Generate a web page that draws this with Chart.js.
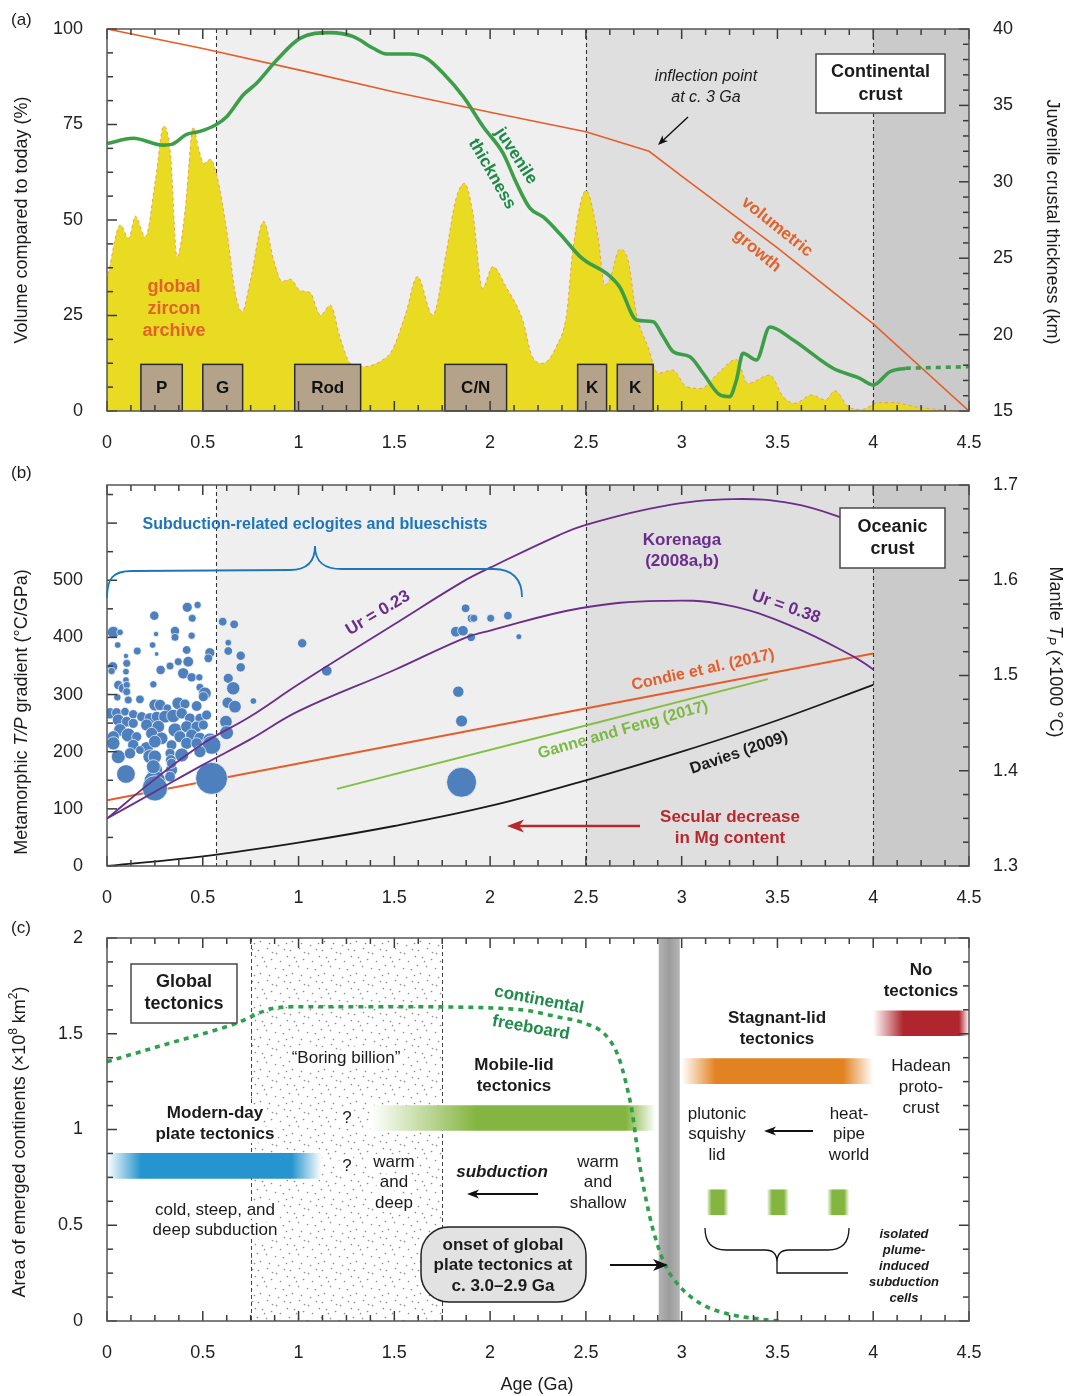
<!DOCTYPE html>
<html>
<head>
<meta charset="utf-8">
<title>Crustal growth, metamorphic gradients and tectonic regimes through time</title>
<script src="https://cdn.jsdelivr.net/npm/chart.js@4.4.1/dist/chart.umd.min.js"></script>
<style>
  html, body { margin: 0; padding: 0; background: #fff; }
  #wrap { position: relative; width: 1067px; height: 1396px; }
  #wrap canvas { position: absolute; left: 0; }
</style>
</head>
<body>
<div id="wrap">
  <canvas id="panelA" width="1067" height="460" style="top:0px"></canvas>
  <canvas id="panelB" width="1067" height="455" style="top:460px"></canvas>
  <canvas id="panelC" width="1067" height="481" style="top:915px"></canvas>
</div>
<script>
// ---------------------------------------------------------------------------
// Data
// ---------------------------------------------------------------------------
const ageTicks = [0, 0.5, 1, 1.5, 2, 2.5, 3, 3.5, 4, 4.5];
const volumeTicks = [0, 25, 50, 75, 100];
const thicknessTicks = [15, 20, 25, 30, 35, 40];
const gradientTicks = [0, 100, 200, 300, 400, 500];
const mantleTicks = [1.3, 1.4, 1.5, 1.6, 1.7];
const areaTicks = [0, 0.5, 1, 1.5, 2];

// (a) continental crust
const volumeAge = [0, 0.5, 1, 1.5, 2, 2.5, 2.83, 3, 3.5, 4, 4.5];
const volumeGrowth = [100, 94.9, 89.3, 83.5, 78.2, 73.1, 68.0, 61.5, 42.7, 22.8, 0];

const thicknessAge = [0, 0.137, 0.294, 0.338, 0.416, 0.485, 0.564, 0.625, 0.712, 0.781, 0.886, 1.007,
  1.164, 1.286, 1.39, 1.46, 1.58, 1.668, 1.755, 1.86, 1.964, 2.068, 2.138, 2.208, 2.277, 2.364,
  2.47, 2.504, 2.608, 2.677, 2.765, 2.851, 2.904, 2.956, 3.043, 3.112, 3.2, 3.25, 3.286, 3.32,
  3.39, 3.46, 3.582, 3.79, 3.93, 4.0, 4.087, 4.17];
const thicknessKm = [32.5, 32.85, 32.4, 32.45, 33.1, 33.3, 33.7, 34.26, 35.7, 36.45, 37.97, 39.39,
  39.76, 39.5, 38.74, 38.36, 38.36, 38.08, 37.1, 35.57, 33.6, 31.86, 29.9, 28.27, 27.7, 26.6,
  25.1, 24.77, 24.0, 23.1, 20.96, 20.84, 19.86, 18.88, 18.55, 17.47, 16.05, 15.94, 17.03, 18.78,
  18.34, 20.5, 19.65, 17.8, 17.14, 16.7, 17.57, 17.8];
const thicknessExtAge = [4.17, 4.5];
const thicknessExtKm = [17.8, 17.9];

const zirconAge = [0, 0.07, 0.113, 0.148, 0.2, 0.253, 0.296, 0.331, 0.366, 0.41, 0.45, 0.48, 0.505,
  0.54, 0.575, 0.627, 0.67, 0.705, 0.749, 0.818, 0.87, 0.914, 0.957, 1.01, 1.06, 1.114, 1.166,
  1.218, 1.27, 1.34, 1.44, 1.49, 1.56, 1.62, 1.7, 1.77, 1.82, 1.866, 1.91, 1.96, 2.014, 2.083,
  2.17, 2.22, 2.275, 2.345, 2.4, 2.43, 2.5, 2.563, 2.598, 2.624, 2.676, 2.72, 2.763, 2.824, 2.876,
  2.954, 3.024, 3.1, 3.19, 3.285, 3.346, 3.46, 3.53, 3.59, 3.68, 3.75, 3.8, 3.87, 3.94, 4.03,
  4.11, 4.22, 4.36, 4.5];
const zirconFreq = [34.3, 48.7, 45.2, 51.0, 45.6, 60.5, 74.6, 67.5, 40.4, 53.5, 74.3, 68.3, 64.8,
  65.9, 61.3, 46.5, 30.8, 26.0, 34.3, 49.6, 39.5, 33.9, 34.5, 31.5, 31.0, 25.1, 27.7,
  19.0, 12.5, 11.6, 13.4, 16.0, 25.6, 35.2, 25.1, 41.3, 55.2, 59.6, 51.8, 32.1, 37.8, 32.5,
  23.8, 14.2, 12.5, 16.8, 25.6, 41.3, 57.7, 45.6, 33.0, 34.3, 42.3, 39.5, 25.6, 16.8, 9.9,
  10.7, 6.4, 5.9, 9.9, 13.5, 7.2, 9.4, 3.7, 2.0, 4.2, 2.9, 5.3, 1.1, 0.4, 2.2,
  2.2, 1.1, 0.3, 0];

const supercontinentNames = ['P', 'G', 'Rod', 'C/N', 'K', 'K'];
const supercontinentStart = [0.177, 0.5, 0.98, 1.764, 2.457, 2.664];
const supercontinentEnd = [0.393, 0.708, 1.324, 2.086, 2.608, 2.851];
const supercontinentHeight = [12.2, 12.2, 12.2, 12.2, 12.2, 12.2];

// (b) oceanic crust: metamorphic T/P and model curves
const daviesAge = [0, 0.5, 1, 1.5, 2, 2.5, 3, 3.5, 4];
const daviesTP = [0, 17, 41, 70, 105, 150, 200, 255, 317];
const condieAge = [0, 4];
const condieTP = [115, 372];
const ganneAge = [1.2, 3.45];
const ganneTP = [135, 327];
const ur023Age = [0, 0.25, 0.5, 0.75, 1.0, 1.5, 1.86, 2.0, 2.36, 2.5, 2.89, 3.27, 3.58, 3.83, 4.0];
const ur023TP = [83, 152, 214, 262, 318, 423, 498, 522, 579, 597, 629, 642, 634, 610, 585];
const ur038Age = [0, 0.25, 0.5, 0.75, 1.0, 1.5, 1.86, 2.0, 2.47, 2.89, 3.23, 3.58, 3.9, 4.0];
const ur038TP = [83, 130, 177, 222, 271, 343, 398, 412, 451, 464, 457, 419, 366, 344];

const eclogiteAge = [0.419, 0.473, 0.247, 0.445, 0.033, 0.068, 0.256, 0.355, 0.355, 0.442, 0.056, 0.238,
  0.158, 0.259, 0.416, 0.099, 0.537, 0.529, 0.424, 0.372, 0.329, 0.030, 0.024, 0.280, 0.398, 0.442,
  0.482, 0.103, 0.099, 0.099, 0.242, 0.059, 0.085, 0.485, 0.103, 0.172, 0.054, 0.103, 0.111, 0.511,
  0.503, 0.250, 0.277, 0.372, 0.407, 0.468, 0.315, 0.016, 0.050, 0.094, 0.137, 0.181, 0.224, 0.259,
  0.303, 0.346, 0.390, 0.433, 0.485, 0.520, 0.059, 0.103, 0.137, 0.207, 0.268, 0.355, 0.416, 0.468,
  0.503, 0.068, 0.111, 0.033, 0.155, 0.233, 0.285, 0.381, 0.442, 0.485, 0.537, 0.546, 0.033, 0.137,
  0.207, 0.250, 0.337, 0.416, 0.468, 0.059, 0.120, 0.224, 0.329, 0.390, 0.485, 0.333, 0.333, 0.250,
  0.250, 0.099, 0.250, 0.250, 0.337, 0.337, 0.329, 0.242, 0.172, 0.546, 0.604, 0.664, 0.633, 0.633,
  0.698, 0.698, 0.633, 0.659, 0.764, 0.630, 0.668, 0.621, 0.624, 1.019, 1.147, 1.872, 1.903, 1.915,
  2.003, 2.093, 1.821, 1.858, 1.901, 2.150, 1.834, 1.851, 1.851];
const eclogiteTP = [452.6, 456.7, 438.0, 433.4, 408.9, 408.9, 405.9, 411.2, 400.1, 403.0, 386.7, 386.7,
  376.2, 371.0, 378.0, 367.5, 373.3, 363.4, 357.5, 357.5, 350.0, 348.8, 341.2, 343.0, 337.1, 330.1,
  330.1, 354.6, 340.0, 325.5, 317.9, 316.7, 310.9, 312.6, 316.7, 291.6, 295.1, 305.0, 290.5, 302.1,
  296.3, 281.7, 281.7, 284.6, 283.5, 280.0, 275.9, 267.1, 268.3, 270.0, 265.4, 261.3, 258.4, 261.3,
  261.3, 262.5, 267.1, 258.4, 258.4, 264.2, 255.5, 252.5, 249.6, 246.7, 243.8, 238.0, 243.8, 243.8,
  246.7, 238.0, 229.2, 226.3, 226.3, 232.1, 223.4, 226.3, 229.2, 223.4, 220.5, 211.7, 214.6, 211.7,
  205.9, 217.6, 211.7, 214.6, 214.6, 191.3, 197.1, 191.3, 197.1, 194.2, 200.1, 185.5, 168.0, 191.3,
  168.0, 161.0, 147.6, 135.9, 168.0, 179.6, 156.3, 173.8, 203.0, 153.4, 427.5, 422.9, 390.8, 376.2,
  368.0, 347.6, 328.4, 310.9, 288.7, 285.8, 278.8, 252.5, 233.3, 389.7, 341.7, 450.9, 433.4, 433.4,
  433.4, 438.0, 410.0, 411.7, 400.2, 401.2, 305.0, 253.7, 146.5];
const eclogiteWeight = [12, 8, 11, 9, 15, 7, 5, 11, 9, 8, 7, 7,
  9, 4, 10, 5, 12, 10, 13, 9, 9, 12, 8, 11, 14, 11,
  8, 9, 7, 7, 8, 11, 12, 9, 8, 10, 8, 9, 9, 16,
  12, 15, 14, 16, 12, 13, 10, 14, 12, 10, 11, 12, 14, 13,
  16, 17, 14, 13, 12, 12, 15, 13, 12, 15, 16, 18, 15, 14,
  12, 16, 18, 15, 12, 15, 16, 15, 15, 15, 18, 25, 17, 14,
  17, 16, 13, 15, 14, 18, 14, 18, 12, 18, 15, 13, 13, 17,
  20, 25, 30, 35, 15, 12, 13, 18, 10, 45, 10, 10, 7, 10,
  11, 11, 12, 17, 7, 14, 16, 16, 18, 11, 13, 10, 10, 9,
  9, 10, 13, 13, 10, 6, 14, 15, 42];

// (c) emerged continents and tectonic regimes
const freeboardAge = [0, 0.3, 0.66, 0.87, 1.0, 1.5, 2.05, 2.2, 2.36, 2.47, 2.61, 2.67, 2.71, 2.74,
  2.78, 2.83, 2.87, 2.92, 2.99, 3.1, 3.23, 3.41, 3.51];
const freeboardArea = [1.354, 1.443, 1.549, 1.633, 1.641, 1.641, 1.633, 1.62, 1.586, 1.563, 1.485,
  1.38, 1.24, 1.10, 0.82, 0.56, 0.41, 0.28, 0.18, 0.09, 0.04, 0.01, 0.0];

const regimeNames = ['Modern-day plate tectonics', 'Mobile-lid tectonics', 'Stagnant-lid tectonics',
  'No tectonics', 'plume-induced subduction cell', 'plume-induced subduction cell', 'plume-induced subduction cell'];
const regimeStart = [0, 1.38, 3.0, 4.0, 3.13, 3.445, 3.76];
const regimeEnd = [1.12, 2.865, 4.0, 4.5, 3.245, 3.56, 3.875];
const regimeLevel = [0.81, 1.06, 1.305, 1.555, 0.62, 0.62, 0.62];

const boringBillion = [0.75, 1.75];
const plateOnset = [2.88, 2.99];

const eonBounds = [0, 0.57, 2.5, 4.0, 4.5];

// ---------------------------------------------------------------------------
// Styling helpers
// ---------------------------------------------------------------------------
const FAMILY = '"Liberation Sans", Arial, Helvetica, sans-serif';
const fnt = (size, weight, style) => `${style || 'normal'} ${weight || 'normal'} ${size}px ${FAMILY}`;
const pts = (xs, ys) => xs.map((x, i) => ({ x, y: ys[i] }));

const EON_SHADE = ['#FFFFFF', '#EFEFEF', '#DFDFDF', '#CACACA'];
const REGIME_STYLE = [
  { c: [38, 148, 206], fl: 34, fr: 30 },
  { c: [132, 181, 64], fl: 105, fr: 30 },
  { c: [227, 130, 32], fl: 34, fr: 30 },
  { c: [176, 38, 46], fl: 30, fr: 10 },
  { c: [132, 181, 64], fl: 5, fr: 5 },
  { c: [132, 181, 64], fl: 5, fr: 5 },
  { c: [132, 181, 64], fl: 5, fr: 5 }
];

function txt(ctx, top, s, x, y, o = {}) {
  ctx.save();
  ctx.font = fnt(o.size || 17, o.bold ? 'bold' : 'normal', o.italic ? 'italic' : 'normal');
  ctx.fillStyle = o.color || '#1b1b1b';
  ctx.textAlign = o.align || 'center';
  ctx.textBaseline = 'middle';
  ctx.translate(x, y - top);
  if (o.rot) ctx.rotate(o.rot * Math.PI / 180);
  if (o.halo) {
    ctx.strokeStyle = '#fff';
    ctx.lineWidth = o.halo;
    ctx.lineJoin = 'round';
    ctx.strokeText(s, 0, 0);
  }
  ctx.fillText(s, 0, 0);
  ctx.restore();
}

function rich(ctx, top, parts, x, y, rot) {
  ctx.save();
  ctx.translate(x, y - top);
  ctx.rotate(rot * Math.PI / 180);
  ctx.textBaseline = 'middle';
  ctx.textAlign = 'left';
  ctx.fillStyle = '#1b1b1b';
  let w = 0;
  parts.forEach(p => { ctx.font = p.font; w += ctx.measureText(p.t).width; });
  let cx = -w / 2;
  parts.forEach(p => {
    ctx.font = p.font;
    ctx.fillText(p.t, cx, p.dy || 0);
    cx += ctx.measureText(p.t).width;
  });
  ctx.restore();
}

function arrow(ctx, top, x1, y1, x2, y2, o = {}) {
  const c = o.color || '#111', hl = o.head || 11, hw = o.hw || 4.5;
  y1 -= top; y2 -= top;
  const ang = Math.atan2(y2 - y1, x2 - x1);
  ctx.save();
  ctx.strokeStyle = c; ctx.fillStyle = c; ctx.lineWidth = o.width || 1.6;
  ctx.beginPath();
  ctx.moveTo(x1, y1);
  ctx.lineTo(x2 - Math.cos(ang) * hl * 0.7, y2 - Math.sin(ang) * hl * 0.7);
  ctx.stroke();
  ctx.translate(x2, y2);
  ctx.rotate(ang);
  ctx.beginPath();
  ctx.moveTo(0, 0); ctx.lineTo(-hl, -hw); ctx.lineTo(-hl * 0.72, 0); ctx.lineTo(-hl, hw);
  ctx.closePath(); ctx.fill();
  ctx.restore();
}

function box(ctx, top, x1, y1, x2, y2, o = {}) {
  ctx.save();
  ctx.fillStyle = o.fill || '#fff';
  ctx.strokeStyle = o.stroke || '#4a4a4a';
  ctx.lineWidth = o.width || 1.5;
  ctx.beginPath();
  if (o.radius) ctx.roundRect(x1, y1 - top, x2 - x1, y2 - y1, o.radius);
  else ctx.rect(x1, y1 - top, x2 - x1, y2 - y1);
  ctx.fill(); ctx.stroke();
  ctx.restore();
}

// shaded age intervals and dashed boundaries (panels a, b)
function drawEons(chart) {
  const { ctx, chartArea: a, scales: { x } } = chart;
  ctx.save();
  for (let i = 0; i < EON_SHADE.length; i++) {
    const x0 = x.getPixelForValue(eonBounds[i]), x1 = x.getPixelForValue(eonBounds[i + 1]);
    ctx.fillStyle = EON_SHADE[i];
    ctx.fillRect(x0, a.top, x1 - x0, a.bottom - a.top);
  }
  ctx.strokeStyle = '#333'; ctx.lineWidth = 1.1; ctx.setLineDash([4, 3]);
  for (let i = 1; i < eonBounds.length - 1; i++) {
    const px = Math.round(x.getPixelForValue(eonBounds[i])) + 0.5;
    ctx.beginPath(); ctx.moveTo(px, a.top); ctx.lineTo(px, a.bottom); ctx.stroke();
  }
  ctx.restore();
}

// frame plus inward minor/major ticks on all four sides
function drawFrame(chart, left, right) {
  const { ctx, chartArea: a, scales } = chart;
  ctx.save();
  ctx.strokeStyle = '#3a3a3a'; ctx.lineWidth = 1.5;
  const seg = (x1, y1, x2, y2) => { ctx.beginPath(); ctx.moveTo(x1, y1); ctx.lineTo(x2, y2); ctx.stroke(); };
  for (let i = 0; i <= 36; i++) {
    const px = scales.x.getPixelForValue(i * 0.125);
    const L = i % 4 === 0 ? 10 : 6;
    seg(px, a.bottom, px, a.bottom - L);
    seg(px, a.top, px, a.top + L);
  }
  [[left, a.left, 1], [right, a.right, -1]].forEach(([cfg, edge, dir]) => {
    const s = scales[cfg.id];
    for (let i = 0; i <= cfg.n; i++) {
      const py = s.getPixelForValue(cfg.from + i * cfg.step);
      const L = i % cfg.major === 0 ? 10 : 6;
      seg(edge, py, edge + dir * L, py);
    }
  });
  ctx.strokeStyle = '#555'; ctx.lineWidth = 1.5;
  ctx.strokeRect(a.left, a.top, a.right - a.left, a.bottom - a.top);
  ctx.restore();
}

const tickFont = { family: FAMILY, size: 18 };
function ageScale(height) {
  return {
    type: 'linear', position: 'bottom', min: 0, max: 4.5, offset: false,
    grid: { display: false, drawTicks: false, offset: false }, border: { display: false },
    ticks: { font: tickFont, color: '#222', padding: 21, maxRotation: 0, autoSkip: false, callback: v => String(v) },
    afterBuildTicks: s => { s.ticks = ageTicks.map(v => ({ value: v })); },
    afterFit: s => { s.height = height; s.paddingLeft = 0; s.paddingRight = 0; }
  };
}
function valueScale(position, min, max, ticks, fmt, width, show = true) {
  return {
    type: 'linear', position, min, max, offset: false,
    grid: { display: false, drawTicks: false, offset: false }, border: { display: false },
    ticks: { display: show, font: tickFont, color: '#222', padding: 24, autoSkip: false, callback: fmt },
    afterBuildTicks: s => { s.ticks = ticks.map(v => ({ value: v })); },
    afterFit: s => { s.width = width; s.paddingTop = 0; s.paddingBottom = 0; }
  };
}
const baseOptions = {
  responsive: false, maintainAspectRatio: false, animation: false, devicePixelRatio: 1, events: [],
  plugins: { legend: { display: false }, tooltip: { enabled: false } }
};

// ---------------------------------------------------------------------------
// (a) Continental crust
// ---------------------------------------------------------------------------
const TOP_A = 0;
new Chart(document.getElementById('panelA'), {
  type: 'line',
  data: {
    datasets: [
      { label: 'volumetric growth', data: pts(volumeAge, volumeGrowth), yAxisID: 'y',
        borderColor: '#E55D2A', borderWidth: 1.6, pointRadius: 0, tension: 0, fill: false, order: 2 },
      { label: 'juvenile thickness', data: pts(thicknessAge, thicknessKm), yAxisID: 'y1',
        borderColor: '#3C9E48', borderWidth: 3.6, pointRadius: 0, cubicInterpolationMode: 'monotone', fill: false, order: 1 },
      { label: 'juvenile thickness (projected)', data: pts(thicknessExtAge, thicknessExtKm), yAxisID: 'y1',
        borderColor: '#3C9E48', borderWidth: 3.6, borderDash: [5, 5], pointRadius: 0, fill: false, order: 1 },
      { label: 'global zircon archive', data: pts(zirconAge, zirconFreq), yAxisID: 'y',
        borderColor: 'rgba(236,150,80,0.9)', borderWidth: 1, borderDash: [3, 3], backgroundColor: '#E9DA22',
        fill: 'origin', pointRadius: 0, cubicInterpolationMode: 'monotone', order: 3 }
    ]
  },
  options: {
    ...baseOptions,
    layout: { padding: { top: 29, left: 0, right: 0, bottom: 0 } },
    scales: {
      x: ageScale(49),
      y: valueScale('left', 0, 100, volumeTicks, v => String(v), 107),
      y1: valueScale('right', 15, 40, thicknessTicks, v => String(v), 98)
    }
  },
  plugins: [{
    id: 'panelADecor',
    beforeDatasetsDraw(chart) { drawEons(chart); },
    afterDatasetsDraw(chart) {
      const { ctx, scales: { x, y } } = chart;
      const T = TOP_A;
      // supercontinent boxes
      supercontinentNames.forEach((name, i) => {
        const x0 = x.getPixelForValue(supercontinentStart[i]), x1 = x.getPixelForValue(supercontinentEnd[i]);
        const y0 = y.getPixelForValue(supercontinentHeight[i]), y1 = y.getPixelForValue(0);
        ctx.save();
        ctx.fillStyle = '#B5A28A'; ctx.strokeStyle = '#2b2b2b'; ctx.lineWidth = 1.5;
        ctx.fillRect(x0, y0, x1 - x0, y1 - y0); ctx.strokeRect(x0, y0, x1 - x0, y1 - y0);
        ctx.restore();
        txt(ctx, 0, name, (x0 + x1) / 2, (y0 + y1) / 2 + 1, { bold: true, size: 17, color: '#111' });
      });
      drawFrame(chart, { id: 'y', from: 0, step: 6.25, n: 16, major: 4 }, { id: 'y1', from: 15, step: 1, n: 25, major: 5 });

      txt(ctx, T, '(a)', 11, 20, { align: 'left', size: 17 });
      txt(ctx, T, 'Volume compared to today (%)', 22, 220, { size: 18, rot: -90 });
      txt(ctx, T, 'Juvenile crustal thickness (km)', 1052, 222, { size: 18, rot: 90 });

      ['global', 'zircon', 'archive'].forEach((s, i) =>
        txt(ctx, T, s, 174, 287 + i * 22, { bold: true, size: 18, color: '#E2622B' }));
      txt(ctx, T, 'juvenile', 516, 156, { bold: true, size: 17, color: '#1D8A47', rot: 57 });
      txt(ctx, T, 'thickness', 492, 174, { bold: true, size: 17, color: '#1D8A47', rot: 60 });
      txt(ctx, T, 'volumetric', 777, 227, { bold: true, size: 17, color: '#E2622B', rot: 38.5 });
      txt(ctx, T, 'growth', 757, 251, { bold: true, size: 17, color: '#E2622B', rot: 39.5 });
      txt(ctx, T, 'inflection point', 706, 77, { italic: true, size: 16 });
      txt(ctx, T, 'at c. 3 Ga', 706, 98, { italic: true, size: 16 });
      arrow(ctx, T, 688, 117, 658, 145, { width: 1.4, head: 10, hw: 4 });

      box(ctx, T, 816, 54, 945, 113);
      txt(ctx, T, 'Continental', 880.5, 72, { bold: true, size: 18 });
      txt(ctx, T, 'crust', 880.5, 95, { bold: true, size: 18 });
    }
  }]
});

// ---------------------------------------------------------------------------
// (b) Oceanic crust
// ---------------------------------------------------------------------------
const TOP_B = 460;
const lineSet = (label, xs, ys, color, width, order) => ({
  type: 'line', label, data: pts(xs, ys), yAxisID: 'y', borderColor: color, borderWidth: width,
  pointRadius: 0, tension: 0.4, fill: false, order
});
new Chart(document.getElementById('panelB'), {
  type: 'line',
  data: {
    datasets: [
      lineSet('Davies (2009)', daviesAge, daviesTP, '#1a1a1a', 1.8, 2),
      lineSet('Condie et al. (2017)', condieAge, condieTP, '#E55D2A', 2, 2),
      lineSet('Ganne and Feng (2017)', ganneAge, ganneTP, '#86BE44', 2, 2),
      lineSet('Ur = 0.23', ur023Age, ur023TP, '#6A2D8B', 1.8, 0),
      lineSet('Ur = 0.38', ur038Age, ur038TP, '#6A2D8B', 1.8, 0),
      { type: 'bubble', label: 'eclogites and blueschists', yAxisID: 'y', order: 1,
        data: eclogiteAge.map((a, i) => ({ x: a, y: eclogiteTP[i], r: eclogiteWeight[i] / 3 + 1 })),
        backgroundColor: '#4F80BE', borderColor: 'rgba(255,255,255,0.85)', borderWidth: 0.8 }
    ]
  },
  options: {
    ...baseOptions,
    layout: { padding: { top: 25, left: 0, right: 0, bottom: 0 } },
    scales: {
      x: ageScale(49),
      y: valueScale('left', 0, 2000 / 3, gradientTicks, v => String(v), 107),
      y1: valueScale('right', 1.3, 1.7, mantleTicks, v => v.toFixed(1), 98)
    }
  },
  plugins: [{
    id: 'panelBDecor',
    beforeDatasetsDraw(chart) { drawEons(chart); },
    afterDatasetsDraw(chart) {
      const { ctx } = chart;
      const T = TOP_B;
      drawFrame(chart, { id: 'y', from: 0, step: 50, n: 13, major: 2 }, { id: 'y1', from: 1.3, step: 0.025, n: 16, major: 4 });

      txt(ctx, T, '(b)', 11, 473, { align: 'left', size: 17 });
      const r18 = fnt(18), i18 = fnt(18, 'normal', 'italic');
      rich(ctx, T, [{ t: 'Metamorphic ', font: r18 }, { t: 'T/P', font: i18 }, { t: ' gradient (°C/GPa)', font: r18 }], 22, 712, -90);
      rich(ctx, T, [{ t: 'Mantle ', font: r18 }, { t: 'T', font: i18 }, { t: 'P', font: fnt(12, 'normal', 'italic'), dy: 5 },
        { t: ' (×1000 °C)', font: r18 }], 1055, 652, 90);

      // brace over the eclogite/blueschist record
      ctx.save();
      ctx.strokeStyle = '#1C76B9'; ctx.lineWidth = 1.8;
      ctx.beginPath();
      ctx.moveTo(107, 598 - T);
      ctx.bezierCurveTo(107, 578 - T, 113, 571 - T, 132, 571 - T);
      ctx.lineTo(290, 570 - T);
      ctx.bezierCurveTo(306, 570 - T, 315, 563 - T, 315, 546 - T);
      ctx.bezierCurveTo(315, 563 - T, 325, 569 - T, 342, 569 - T);
      ctx.lineTo(494, 569 - T);
      ctx.bezierCurveTo(512, 569 - T, 522, 579 - T, 522, 597 - T);
      ctx.stroke();
      ctx.restore();
      txt(ctx, T, 'Subduction-related eclogites and blueschists', 315, 525, { bold: true, size: 16, color: '#1C76B9' });

      const purple = '#6B2D8C';
      txt(ctx, T, 'Korenaga', 682, 540, { bold: true, size: 17, color: purple });
      txt(ctx, T, '(2008a,b)', 682, 561, { bold: true, size: 17, color: purple });
      txt(ctx, T, 'Ur = 0.23', 378, 613, { bold: true, size: 17, color: purple, rot: -31 });
      txt(ctx, T, 'Ur = 0.38', 786, 607, { bold: true, size: 17, color: purple, rot: 19 });
      txt(ctx, T, 'Condie et al. (2017)', 703, 670, { bold: true, size: 16, color: '#E55D2A', rot: -12.5 });
      txt(ctx, T, 'Ganne and Feng (2017)', 623, 730, { bold: true, size: 16, color: '#7DB843', rot: -16 });
      txt(ctx, T, 'Davies (2009)', 739, 753, { bold: true, size: 16, color: '#1b1b1b', rot: -19 });

      box(ctx, T, 840, 508, 945, 568);
      txt(ctx, T, 'Oceanic', 892.5, 527, { bold: true, size: 18 });
      txt(ctx, T, 'crust', 892.5, 549, { bold: true, size: 18 });

      arrow(ctx, T, 640, 826, 507, 826, { color: '#B8282E', width: 2.6, head: 17, hw: 6.5 });
      txt(ctx, T, 'Secular decrease', 730, 817, { bold: true, size: 17, color: '#B8282E' });
      txt(ctx, T, 'in Mg content', 730, 838, { bold: true, size: 17, color: '#B8282E' });
    }
  }]
});

// ---------------------------------------------------------------------------
// (c) Emerged continents and tectonic regimes
// ---------------------------------------------------------------------------
const TOP_C = 915;
function regimeFill(c) {
  const st = REGIME_STYLE[c.dataIndex] || REGIME_STYLE[0];
  const solid = `rgb(${st.c.join(',')})`;
  const xs = c.chart.scales && c.chart.scales.x;
  if (c.dataIndex === undefined || !xs || !c.chart.chartArea) return solid;
  const x0 = xs.getPixelForValue(regimeStart[c.dataIndex]);
  const x1 = xs.getPixelForValue(regimeEnd[c.dataIndex]);
  if (!isFinite(x0) || !isFinite(x1)) return solid;
  const L = Math.max(1, x1 - x0);
  const g = c.chart.ctx.createLinearGradient(x0, 0, x1, 0);
  g.addColorStop(0, '#ffffff');
  g.addColorStop(Math.min(0.49, st.fl / L), solid);
  g.addColorStop(Math.max(0.51, 1 - st.fr / L), solid);
  g.addColorStop(1, '#ffffff');
  return g;
}

let stipplePattern = null;
function getStipple(ctx) {
  if (stipplePattern) return stipplePattern;
  const c = document.createElement('canvas');
  c.width = 32; c.height = 32;
  const g = c.getContext('2d');
  g.fillStyle = '#8c8c8c';
  const dots = [[2, 3], [11, 1], [20, 6], [28, 2], [6, 10], [15, 12], [24, 14], [31, 9], [1, 18], [10, 19],
    [19, 21], [27, 22], [4, 26], [13, 28], [22, 30], [30, 28], [16, 5], [8, 14]];
  dots.forEach(([x, y]) => { g.beginPath(); g.arc(x + 0.5, y + 0.5, 0.85, 0, Math.PI * 2); g.fill(); });
  stipplePattern = ctx.createPattern(c, 'repeat');
  return stipplePattern;
}

new Chart(document.getElementById('panelC'), {
  type: 'line',
  data: {
    datasets: [
      { type: 'line', label: 'continental freeboard', data: pts(freeboardAge, freeboardArea), yAxisID: 'y',
        borderColor: '#2EA04A', borderWidth: 3.6, borderDash: [5, 5], pointRadius: 0,
        cubicInterpolationMode: 'monotone', fill: false, order: 1 },
      { type: 'bar', label: 'tectonic regimes', indexAxis: 'y', xAxisID: 'x', yAxisID: 'y', order: 2,
        data: regimeNames.map((n, i) => ({ x: [regimeStart[i], regimeEnd[i]], y: regimeLevel[i] })),
        backgroundColor: regimeFill, borderWidth: 0, barThickness: 25 }
    ]
  },
  options: {
    ...baseOptions,
    layout: { padding: { top: 23, left: 0, right: 0, bottom: 0 } },
    scales: {
      x: ageScale(75),
      y: valueScale('left', 0, 2, areaTicks, v => String(v), 107),
      y1: valueScale('right', 0, 2, areaTicks, v => String(v), 98, false)
    }
  },
  plugins: [{
    id: 'panelCDecor',
    beforeDatasetsDraw(chart) {
      const { ctx, chartArea: a, scales: { x } } = chart;
      ctx.save();
      // "boring billion" stipple
      const b0 = x.getPixelForValue(boringBillion[0]), b1 = x.getPixelForValue(boringBillion[1]);
      ctx.fillStyle = getStipple(ctx);
      ctx.fillRect(b0, a.top, b1 - b0, a.bottom - a.top);
      ctx.strokeStyle = '#444'; ctx.lineWidth = 1; ctx.setLineDash([4, 3]);
      [b0, b1].forEach(px => {
        ctx.beginPath(); ctx.moveTo(Math.round(px) + 0.5, a.top); ctx.lineTo(Math.round(px) + 0.5, a.bottom); ctx.stroke();
      });
      ctx.setLineDash([]);
      // onset of global plate tectonics
      const o0 = x.getPixelForValue(plateOnset[0]), o1 = x.getPixelForValue(plateOnset[1]);
      const g = ctx.createLinearGradient(o0, 0, o1, 0);
      g.addColorStop(0, '#B4B4B4'); g.addColorStop(0.5, '#9C9C9C'); g.addColorStop(1, '#B4B4B4');
      ctx.fillStyle = g;
      ctx.fillRect(o0, a.top, o1 - o0, a.bottom - a.top);
      ctx.restore();

      // labels sitting on the stipple get a white backing
      const T = TOP_C;
      txt(ctx, T, '“Boring billion”', 346, 1058, { size: 17, halo: 9 });
      txt(ctx, T, 'Modern-day', 215, 1113, { bold: true, size: 17, halo: 8 });
      txt(ctx, T, 'plate tectonics', 215, 1134, { bold: true, size: 17, halo: 8 });
      txt(ctx, T, '?', 347, 1118, { size: 17, halo: 8 });
      txt(ctx, T, '?', 347, 1166, { size: 17, halo: 8 });
      ['warm', 'and', 'deep'].forEach((s, i) => txt(ctx, T, s, 394, 1162 + i * 20.5, { size: 17, halo: 8 }));
      txt(ctx, T, 'cold, steep, and', 215, 1210, { size: 17, halo: 8 });
      txt(ctx, T, 'deep subduction', 215, 1230, { size: 17, halo: 8 });
    },
    afterDatasetsDraw(chart) {
      const { ctx } = chart;
      const T = TOP_C;
      drawFrame(chart, { id: 'y', from: 0, step: 0.125, n: 16, major: 4 }, { id: 'y1', from: 0, step: 0.125, n: 16, major: 4 });

      txt(ctx, T, '(c)', 11, 928, { align: 'left', size: 17 });
      const r18 = fnt(18), s12 = fnt(12);
      rich(ctx, T, [{ t: 'Area of emerged continents (×10', font: r18 }, { t: '8', font: s12, dy: -6 },
        { t: ' km', font: r18 }, { t: '2', font: s12, dy: -6 }, { t: ')', font: r18 }], 20, 1142, -90);
      txt(ctx, T, 'Age (Ga)', 537, 1385, { size: 18 });

      box(ctx, T, 131, 964, 237, 1023);
      txt(ctx, T, 'Global', 184, 982, { bold: true, size: 18 });
      txt(ctx, T, 'tectonics', 184, 1004, { bold: true, size: 18 });

      txt(ctx, T, 'continental', 539, 1000, { bold: true, size: 17, color: '#1E8C4A', rot: 11 });
      txt(ctx, T, 'freeboard', 531, 1028, { bold: true, size: 17, color: '#1E8C4A', rot: 10 });

      txt(ctx, T, 'Mobile-lid', 514, 1065, { bold: true, size: 17 });
      txt(ctx, T, 'tectonics', 514, 1086, { bold: true, size: 17 });
      txt(ctx, T, 'subduction', 502, 1172, { bold: true, italic: true, size: 17 });
      arrow(ctx, T, 538, 1194, 467, 1194, { width: 1.8, head: 12, hw: 4.5 });
      ['warm', 'and', 'shallow'].forEach((s, i) => txt(ctx, T, s, 598, 1162 + i * 20.5, { size: 17 }));

      box(ctx, T, 421, 1227, 586, 1302, { fill: '#E2E2E2', stroke: '#222', radius: 28 });
      txt(ctx, T, 'onset of global', 503, 1245, { bold: true, size: 17 });
      txt(ctx, T, 'plate tectonics at', 503, 1265, { bold: true, size: 17 });
      txt(ctx, T, 'c. 3.0–2.9 Ga', 503, 1286, { bold: true, size: 17 });
      arrow(ctx, T, 610, 1265, 668, 1265, { width: 2, head: 15, hw: 6 });

      txt(ctx, T, 'Stagnant-lid', 777, 1018, { bold: true, size: 17 });
      txt(ctx, T, 'tectonics', 777, 1039, { bold: true, size: 17 });
      txt(ctx, T, 'No', 921, 970, { bold: true, size: 17 });
      txt(ctx, T, 'tectonics', 921, 991, { bold: true, size: 17 });
      ['Hadean', 'proto-', 'crust'].forEach((s, i) => txt(ctx, T, s, 921, 1066 + i * 21, { size: 17 }));
      ['plutonic', 'squishy', 'lid'].forEach((s, i) => txt(ctx, T, s, 717, 1114 + i * 20.5, { size: 17 }));
      ['heat-', 'pipe', 'world'].forEach((s, i) => txt(ctx, T, s, 849, 1114 + i * 20.5, { size: 17 }));
      arrow(ctx, T, 813, 1131, 764, 1131, { width: 1.8, head: 12, hw: 4.5 });

      // brace grouping the isolated subduction cells
      ctx.save();
      ctx.strokeStyle = '#111'; ctx.lineWidth = 1.3;
      ctx.beginPath();
      ctx.moveTo(705, 1228 - T);
      ctx.quadraticCurveTo(705, 1250 - T, 726, 1250 - T);
      ctx.lineTo(765, 1250 - T);
      ctx.quadraticCurveTo(777, 1250 - T, 777, 1262 - T);
      ctx.quadraticCurveTo(777, 1250 - T, 789, 1250 - T);
      ctx.lineTo(828, 1250 - T);
      ctx.quadraticCurveTo(849, 1250 - T, 849, 1228 - T);
      ctx.moveTo(777, 1260 - T);
      ctx.lineTo(777, 1273 - T);
      ctx.lineTo(848, 1273 - T);
      ctx.stroke();
      ctx.restore();
      ['isolated', 'plume-', 'induced', 'subduction', 'cells'].forEach((s, i) =>
        txt(ctx, T, s, 904, 1234 + i * 16, { bold: true, italic: true, size: 13 }));
    }
  }]
});
</script>
</body>
</html>
